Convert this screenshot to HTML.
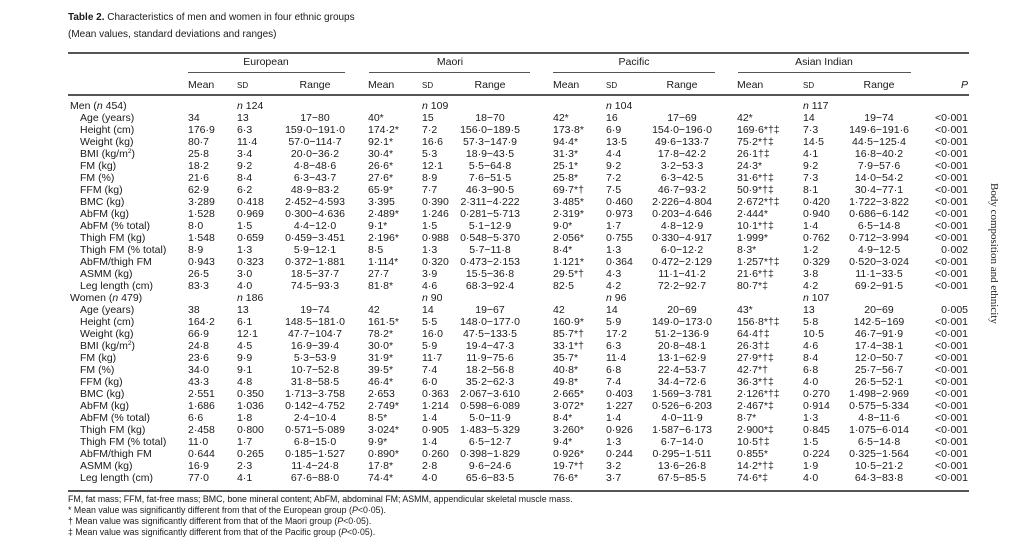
<!DOCTYPE html>
<html><head><meta charset="utf-8">
<style>
body{margin:0;width:1024px;height:558px;background:#fff;position:relative;overflow:hidden;font-family:"Liberation Sans",Arial,sans-serif;color:#1a1a1a;font-size:10.5px}
.t{position:absolute;white-space:nowrap;line-height:12px;transform:translateY(-6px)}
.c{transform:translate(-50%,-6px)}
.r{transform:translate(-100%,-6px)}
.ln{position:absolute;height:1px;background:#555}
.sd{font-size:8px}
sup{font-size:6.5px;line-height:0;vertical-align:4px}
</style></head><body>
<div class="t" style="left:68px;top:18px;font-size:10px"><b>Table 2.</b> Characteristics of men and women in four ethnic groups</div>
<div class="t" style="left:68px;top:35px;font-size:10px">(Mean values, standard deviations and ranges)</div>
<div class="ln" style="left:68px;top:52px;width:901px;height:1.5px"></div>
<div class="t c" style="left:266px;top:62px">European</div>
<div class="t c" style="left:450px;top:62px">Maori</div>
<div class="t c" style="left:634px;top:62px">Pacific</div>
<div class="t c" style="left:824px;top:62px">Asian Indian</div>
<div class="ln" style="left:188px;top:72px;width:157px"></div>
<div class="ln" style="left:369px;top:72px;width:161px"></div>
<div class="ln" style="left:553px;top:72px;width:162px"></div>
<div class="ln" style="left:738px;top:72px;width:173px"></div>
<div id="hdr"></div>
<div class="ln" style="left:68px;top:94px;width:901px;height:1.5px"></div>
<div id="body"></div>
<div class="ln" style="left:68px;top:490px;width:901px;height:1.5px"></div>
<div class="t" style="left:68px;top:499px;font-size:8.8px">FM, fat mass; FFM, fat-free mass; BMC, bone mineral content; AbFM, abdominal FM; ASMM, appendicular skeletal muscle mass.</div>
<div class="t" style="left:68px;top:510px;font-size:8.8px">* Mean value was significantly different from that of the European group (<i>P</i>&lt;0·05).</div>
<div class="t" style="left:68px;top:521px;font-size:8.8px">† Mean value was significantly different from that of the Maori group (<i>P</i>&lt;0·05).</div>
<div class="t" style="left:68px;top:532px;font-size:8.8px">‡ Mean value was significantly different from that of the Pacific group (<i>P</i>&lt;0·05).</div>
<div style="position:absolute;left:1000px;top:183px;transform-origin:0 0;transform:rotate(90deg);font-family:'Liberation Serif',serif;font-size:11px;white-space:nowrap;color:#222">Body composition and ethnicity</div>
<script>
const colX=[188,237,315,368,422,490,553,606,682,737,803,879,968];
const colAlign=['l','l','c','l','l','c','l','l','c','l','l','c','r'];
const headers=['Mean','SD','Range','Mean','SD','Range','Mean','SD','Range','Mean','SD','Range','P'];
const rowLabels=['Men (<i>n</i> 454)','Age (years)','Height (cm)','Weight (kg)','BMI (kg/m<sup>2</sup>)','FM (kg)','FM (%)','FFM (kg)','BMC (kg)','AbFM (kg)','AbFM (% total)','Thigh FM (kg)','Thigh FM (% total)','AbFM/thigh FM','ASMM (kg)','Leg length (cm)',
'Women (<i>n</i> 479)','Age (years)','Height (cm)','Weight (kg)','BMI (kg/m<sup>2</sup>)','FM (kg)','FM (%)','FFM (kg)','BMC (kg)','AbFM (kg)','AbFM (% total)','Thigh FM (kg)','Thigh FM (% total)','AbFM/thigh FM','ASMM (kg)','Leg length (cm)'];
const menValues=[
['','<i>n</i> 124','','','<i>n</i> 109','','','<i>n</i> 104','','','<i>n</i> 117','',''],
['34','13','17−80','40*','15','18−70','42*','16','17−69','42*','14','19−74','<0·001'],
['176·9','6·3','159·0−191·0','174·2*','7·2','156·0−189·5','173·8*','6·9','154·0−196·0','169·6*†‡','7·3','149·6−191·6','<0·001'],
['80·7','11·4','57·0−114·7','92·1*','16·6','57·3−147·9','94·4*','13·5','49·6−133·7','75·2*†‡','14·5','44·5−125·4','<0·001'],
['25·8','3·4','20·0−36·2','30·4*','5·3','18·9−43·5','31·3*','4·4','17·8−42·2','26·1†‡','4·1','16·8−40·2','<0·001'],
['18·2','9·2','4·8−48·6','26·6*','12·1','5·5−64·8','25·1*','9·2','3·2−53·3','24·3*','9·2','7·9−57·6','<0·001'],
['21·6','8·4','6·3−43·7','27·6*','8·9','7·6−51·5','25·8*','7·2','6·3−42·5','31·6*†‡','7·3','14·0−54·2','<0·001'],
['62·9','6·2','48·9−83·2','65·9*','7·7','46·3−90·5','69·7*†','7·5','46·7−93·2','50·9*†‡','8·1','30·4−77·1','<0·001'],
['3·289','0·418','2·452−4·593','3·395','0·390','2·311−4·222','3·485*','0·460','2·226−4·804','2·672*†‡','0·420','1·722−3·822','<0·001'],
['1·528','0·969','0·300−4·636','2·489*','1·246','0·281−5·713','2·319*','0·973','0·203−4·646','2·444*','0·940','0·686−6·142','<0·001'],
['8·0','1·5','4·4−12·0','9·1*','1·5','5·1−12·9','9·0*','1·7','4·8−12·9','10·1*†‡','1·4','6·5−14·8','<0·001'],
['1·548','0·659','0·459−3·451','2·196*','0·988','0·548−5·370','2·056*','0·755','0·330−4·917','1·999*','0·762','0·712−3·994','<0·001'],
['8·9','1·3','5·9−12·1','8·5','1·3','5·7−11·8','8·4*','1·3','6·0−12·2','8·3*','1·2','4·9−12·5','0·002'],
['0·943','0·323','0·372−1·881','1·114*','0·320','0·473−2·153','1·121*','0·364','0·472−2·129','1·257*†‡','0·329','0·520−3·024','<0·001'],
['26·5','3·0','18·5−37·7','27·7','3·9','15·5−36·8','29·5*†','4·3','11·1−41·2','21·6*†‡','3·8','11·1−33·5','<0·001'],
['83·3','4·0','74·5−93·3','81·8*','4·6','68·3−92·4','82·5','4·2','72·2−92·7','80·7*‡','4·2','69·2−91·5','<0·001']];
const womenValues=[
['','<i>n</i> 186','','','<i>n</i> 90','','','<i>n</i> 96','','','<i>n</i> 107','',''],
['38','13','19−74','42','14','19−67','42','14','20−69','43*','13','20−69','0·005'],
['164·2','6·1','148·5−181·0','161·5*','5·5','148·0−177·0','160·9*','5·9','149·0−173·0','156·8*†‡','5·8','142·5−169','<0·001'],
['66·9','12·1','47·7−104·7','78·2*','16·0','47·5−133·5','85·7*†','17·2','51·2−136·9','64·4†‡','10·5','46·7−91·9','<0·001'],
['24·8','4·5','16·9−39·4','30·0*','5·9','19·4−47·3','33·1*†','6·3','20·8−48·1','26·3†‡','4·6','17·4−38·1','<0·001'],
['23·6','9·9','5·3−53·9','31·9*','11·7','11·9−75·6','35·7*','11·4','13·1−62·9','27·9*†‡','8·4','12·0−50·7','<0·001'],
['34·0','9·1','10·7−52·8','39·5*','7·4','18·2−56·8','40·8*','6·8','22·4−53·7','42·7*†','6·8','25·7−56·7','<0·001'],
['43·3','4·8','31·8−58·5','46·4*','6·0','35·2−62·3','49·8*','7·4','34·4−72·6','36·3*†‡','4·0','26·5−52·1','<0·001'],
['2·551','0·350','1·713−3·758','2·653','0·363','2·067−3·610','2·665*','0·403','1·569−3·781','2·126*†‡','0·270','1·498−2·969','<0·001'],
['1·686','1·036','0·142−4·752','2·749*','1·214','0·598−6·089','3·072*','1·227','0·526−6·203','2·467*‡','0·914','0·575−5·334','<0·001'],
['6·6','1·8','2·4−10·4','8·5*','1·4','5·0−11·9','8·4*','1·4','4·0−11·9','8·7*','1·3','4·8−11·6','<0·001'],
['2·458','0·800','0·571−5·089','3·024*','0·905','1·483−5·329','3·260*','0·926','1·587−6·173','2·900*‡','0·845','1·075−6·014','<0·001'],
['11·0','1·7','6·8−15·0','9·9*','1·4','6·5−12·7','9·4*','1·3','6·7−14·0','10·5†‡','1·5','6·5−14·8','<0·001'],
['0·644','0·265','0·185−1·527','0·890*','0·260','0·398−1·829','0·926*','0·244','0·295−1·511','0·855*','0·224','0·325−1·564','<0·001'],
['16·9','2·3','11·4−24·8','17·8*','2·8','9·6−24·6','19·7*†','3·2','13·6−26·8','14·2*†‡','1·9','10·5−21·2','<0·001'],
['77·0','4·1','67·6−88·0','74·4*','4·0','65·6−83·5','76·6*','3·7','67·5−85·5','74·6*‡','4·0','64·3−83·8','<0·001']];
const rows=menValues.concat(womenValues);
function mk(parent,html,x,y,align){
  const d=document.createElement('div');
  d.className='t'+(align==='c'?' c':align==='r'?' r':'');
  d.style.left=x+'px';d.style.top=y+'px';
  d.innerHTML=html;parent.appendChild(d);return d;
}
const hdr=document.getElementById('hdr');
headers.forEach((h,i)=>{
  const html=h==='SD'?'<span class="sd">SD</span>':h==='P'?'<i>P</i>':h;
  const el=mk(hdr,html,colX[i],85,colAlign[i]);
  
  
});
const body=document.getElementById('body');
const y0=106,step=12.0;
rows.forEach((r,ri)=>{
  const y=y0+ri*step;
  const group=(ri===0||ri===16);
  const lab=mk(body,rowLabels[ri],group?70:80,y,'l');
  
  
  r.forEach((v,ci)=>{
    if(!v)return;
    const html=v.replace(/</g,'&lt;').replace('&lt;i>','<i>').replace('&lt;/i>','</i>');
    const el=mk(body,html,colX[ci],y,colAlign[ci]);
    
    
  });
});
</script>
</body></html>
